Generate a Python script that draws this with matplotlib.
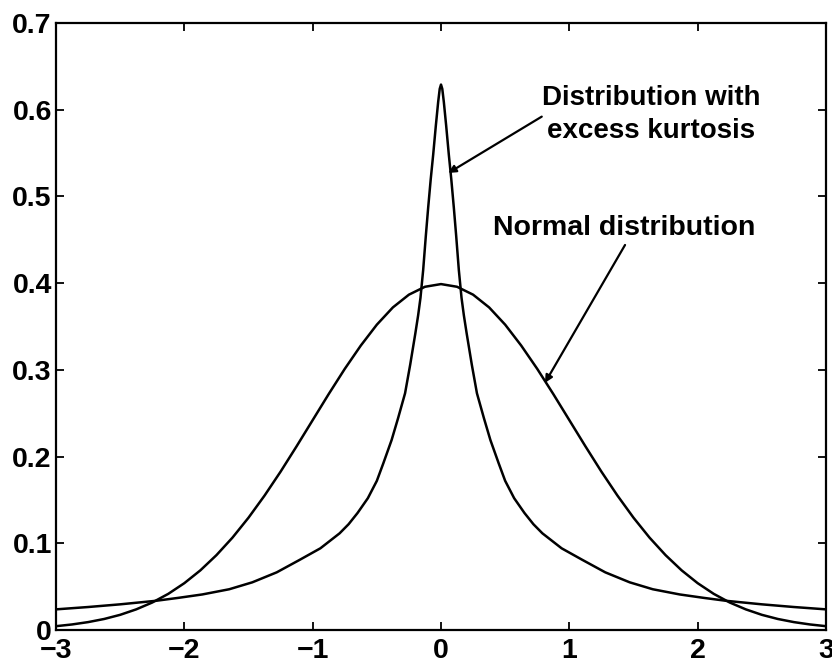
import matplotlib
matplotlib.use('Agg')
import matplotlib.pyplot as plt

# values
normal_x = [-3.0, -2.875, -2.75, -2.625, -2.5, -2.375, -2.25, -2.125, -2.0, -1.875, -1.75, -1.625,
            -1.5, -1.375, -1.25, -1.125, -1.0, -0.875, -0.75, -0.625, -0.5, -0.375, -0.25, -0.125, 0.0,
            0.125, 0.25, 0.375, 0.5, 0.625, 0.75, 0.875, 1.0, 1.125, 1.25, 1.375, 1.5, 1.625,
            1.75, 1.875, 2.0, 2.125, 2.25, 2.375, 2.5, 2.625, 2.75, 2.875, 3.0]
normal_y = [0.0044, 0.0064, 0.0091, 0.0127, 0.0175, 0.0238, 0.0317, 0.0417, 0.0540, 0.0688, 0.0863, 0.1065,
            0.1295, 0.1550, 0.1826, 0.2119, 0.2420, 0.2721, 0.3011, 0.3280, 0.3521, 0.3720, 0.3867, 0.3958, 0.3989,
            0.3958, 0.3867, 0.3720, 0.3521, 0.3280, 0.3011, 0.2721, 0.2420, 0.2119, 0.1826, 0.1550, 0.1295, 0.1065,
            0.0863, 0.0688, 0.0540, 0.0417, 0.0317, 0.0238, 0.0175, 0.0127, 0.0091, 0.0064, 0.0044]

kurt_x = [-3.0, -2.75, -2.5, -2.22, -2.05, -1.86, -1.65, -1.47, -1.28, -1.1, -0.94, -0.79, -0.72, -0.65,
          -0.57, -0.5, -0.45, -0.385, -0.335, -0.28, -0.24, -0.2, -0.178, -0.16, -0.139, -0.118, -0.1,
          -0.08, -0.061, -0.04, -0.022, -0.01, 0.0,
          0.01, 0.022, 0.04, 0.061, 0.08, 0.1, 0.118, 0.139, 0.16, 0.178, 0.2, 0.24, 0.28, 0.335, 0.385,
          0.45, 0.5, 0.57, 0.65, 0.72, 0.79, 0.94, 1.1, 1.28, 1.47, 1.65, 1.86, 2.05, 2.22, 2.5, 2.75, 3.0]
kurt_y = [0.0238, 0.0265, 0.0296, 0.0337, 0.037, 0.041, 0.047, 0.055, 0.0665, 0.081, 0.0942, 0.1115, 0.122,
          0.135, 0.152, 0.172, 0.192, 0.219, 0.244, 0.273, 0.306, 0.342, 0.363, 0.383, 0.415, 0.455, 0.487,
          0.520, 0.548, 0.582, 0.609, 0.624, 0.629,
          0.624, 0.609, 0.582, 0.548, 0.520, 0.487, 0.455, 0.415, 0.383, 0.363, 0.342, 0.306, 0.273, 0.244,
          0.219, 0.192, 0.172, 0.152, 0.135, 0.122, 0.1115, 0.0942, 0.081, 0.0665, 0.055, 0.047, 0.041,
          0.037, 0.0337, 0.0296, 0.0265, 0.0238]

x_ticks = [-3, -2, -1, 0, 1, 2, 3]
y_ticks = [0, 0.1, 0.2, 0.3, 0.4, 0.5, 0.6, 0.7]
y_tick_labels = ['0', '0.1', '0.2', '0.3', '0.4', '0.5', '0.6', '0.7']

plt.rcParams['font.family'] = ['Liberation Sans', 'DejaVu Sans']
plt.rcParams['font.weight'] = 'bold'

fig = plt.figure(figsize=(8.32, 6.64), dpi=100)
ax = fig.add_axes([0.0673, 0.0512, 0.9255, 0.9142])

ax.plot(normal_x, normal_y, color='black', lw=1.8)
ax.plot(kurt_x, kurt_y, color='black', lw=1.8)

ax.set_xlim(-3, 3)
ax.set_ylim(0, 0.7)
ax.set_xticks(x_ticks)
ax.set_xticklabels(['\u2212' + str(-t) if t < 0 else str(t) for t in x_ticks])
ax.set_yticks(y_ticks)
ax.set_yticklabels(y_tick_labels)
ax.tick_params(direction='in', length=6, width=1.3, top=True, right=True, labelsize=20.5)
ax.tick_params(axis='x', pad=6)
ax.tick_params(axis='y', pad=3)
for s in ax.spines.values():
    s.set_linewidth(1.6)

# labels
ax.text(1.64, 0.595, 'Distribution with\nexcess kurtosis', ha='center', va='center',
        fontsize=20, fontweight='bold', linespacing=1.35)
ax.text(1.43, 0.464, 'Normal distribution', ha='center', va='center',
        fontsize=20.5, fontweight='bold')

# arrows
arrow = dict(arrowstyle='-|>', color='black', lw=1.6, mutation_scale=11, shrinkA=0, shrinkB=0)
ax.annotate('', xy=(0.057, 0.527), xytext=(0.785, 0.592), arrowprops=arrow)
ax.annotate('', xy=(0.81, 0.285), xytext=(1.434, 0.444), arrowprops=arrow)

fig.savefig('out.png', dpi=100)
